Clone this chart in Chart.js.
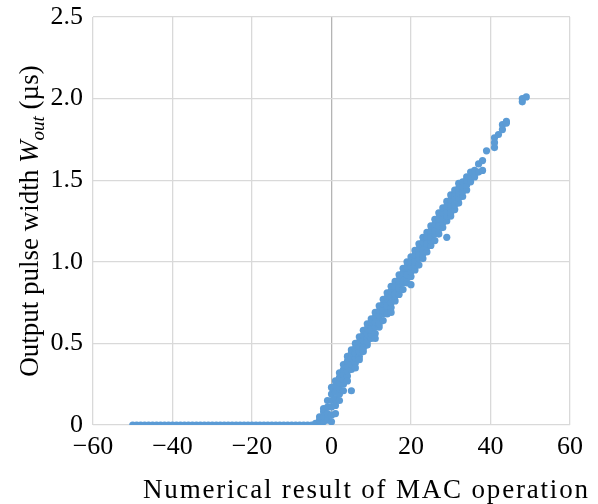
<!doctype html>
<html lang="en">
<head>
  <meta charset="utf-8">
  <title>Output pulse width vs MAC result</title>
  <style type="text/css">
    html, body {
      margin: 0;
      padding: 0;
      background: #ffffff;
    }
    #wrap {
      width: 598px;
      height: 504px;
    }
  </style>
</head>
<body>
  <div id="wrap">
    <canvas id="chart_pulse"></canvas>
  </div>

  <script src="https://cdn.jsdelivr.net/npm/chart.js"></script>
  <script>
    // flat part: results below threshold give no pulse
    const flat_x = [-50, -49, -48, -47, -46, -45, -44, -43, -42, -41, -40, -39, -38, -37, -36, -35, -34, -33, -32, -31, -30, -29, -28, -27, -26, -25, -24, -23, -22, -21, -20, -19, -18, -17, -16, -15, -14, -13, -12, -11, -10, -9, -8, -7, -6, -5, -4, -4, -3];
    const flat_y = [0, 0, 0, 0, 0, 0, 0, 0, 0, 0, 0, 0, 0, 0, 0, 0, 0, 0, 0, 0, 0, 0, 0, 0, 0, 0, 0, 0, 0, 0, 0, 0, 0, 0, 0, 0, 0, 0, 0, 0, 0, 0, 0, 0, 0, 0, 0, 0.01, 0];

    // rising part: one x per row, several measured widths each
    const rise_x = [-3, -2, -1, 0, 1, 2, 3, 4, 5, 6, 7, 8, 9, 10, 11, 12, 13, 14, 15, 16, 17, 18, 19, 20,
      21, 22, 23, 24, 25, 26, 27, 28, 29, 30, 31, 32, 33, 34, 35, 36, 37, 38, 39, 41, 42, 43, 44, 48, 49];
    const rise_y = [
      [0.01, 0.03, 0.05],
      [0.02, 0.05, 0.08, 0.1],
      [0.03, 0.07, 0.11, 0.15],
      [0.02, 0.06, 0.11, 0.15, 0.19, 0.23],
      [0.07, 0.12, 0.16, 0.2, 0.24, 0.27],
      [0.15, 0.19, 0.22, 0.26, 0.29, 0.32],
      [0.25, 0.28, 0.31, 0.34, 0.37, 0.21],
      [0.3, 0.33, 0.36, 0.39, 0.42, 0.27],
      [0.34, 0.37, 0.41, 0.44, 0.46, 0.21],
      [0.38, 0.41, 0.44, 0.47, 0.5, 0.35],
      [0.42, 0.45, 0.48, 0.51, 0.54, 0.4],
      [0.45, 0.49, 0.52, 0.55, 0.58, 0.47],
      [0.49, 0.53, 0.56, 0.59, 0.62, 0.51],
      [0.53, 0.56, 0.6, 0.63, 0.65, 0.58],
      [0.56, 0.6, 0.63, 0.66, 0.69, 0.53],
      [0.6, 0.64, 0.67, 0.7, 0.73, 0.62],
      [0.64, 0.68, 0.71, 0.74, 0.77, 0.7],
      [0.68, 0.72, 0.75, 0.78, 0.81, 0.73],
      [0.72, 0.75, 0.79, 0.82, 0.85, 0.69],
      [0.76, 0.79, 0.82, 0.85, 0.88, 0.8],
      [0.8, 0.83, 0.86, 0.89, 0.92, 0.84],
      [0.83, 0.87, 0.9, 0.93, 0.96, 0.88],
      [0.87, 0.9, 0.94, 0.97, 1.0, 0.92],
      [0.91, 0.94, 0.97, 1.0, 1.03, 0.86],
      [0.95, 0.98, 1.01, 1.04, 1.07, 1.0],
      [0.98, 1.02, 1.05, 1.08, 1.11, 1.04],
      [1.02, 1.05, 1.09, 1.12, 1.15, 1.07],
      [1.06, 1.09, 1.12, 1.15, 1.18, 1.11],
      [1.1, 1.13, 1.16, 1.19, 1.22, 1.15],
      [1.13, 1.17, 1.2, 1.23, 1.26, 1.19],
      [1.17, 1.2, 1.24, 1.27, 1.3, 1.22],
      [1.21, 1.24, 1.27, 1.3, 1.33, 1.26],
      [1.25, 1.28, 1.31, 1.34, 1.37, 1.15],
      [1.28, 1.32, 1.35, 1.38, 1.41, 1.3],
      [1.32, 1.35, 1.39, 1.42, 1.44],
      [1.36, 1.39, 1.42, 1.45, 1.48],
      [1.4, 1.43, 1.46, 1.49],
      [1.44, 1.47, 1.5, 1.52],
      [1.49, 1.52, 1.55],
      [1.52, 1.56],
      [1.55, 1.6],
      [1.56, 1.62],
      [1.68],
      [1.7, 1.73, 1.76],
      [1.78],
      [1.81, 1.84],
      [1.85, 1.86],
      [1.98, 2.0],
      [2.01]
    ];

    const x_ticks = [-60, -40, -20, 0, 20, 40, 60];
    const y_ticks = [0, 0.5, 1.0, 1.5, 2.0, 2.5];

    const pointColor = '#5B9BD5';
    const serif = '"Liberation Serif", "DejaVu Serif", serif';

    var points = [];
    for (var i = 0; i < flat_x.length; i++) {
      points.push({ x: flat_x[i], y: flat_y[i] });
    }
    for (var j = 0; j < rise_x.length; j++) {
      for (var k = 0; k < rise_y[j].length; k++) {
        points.push({ x: rise_x[j], y: rise_y[j][k] });
      }
    }

    function drawSpaced(ctx, parts, cx, cy, targetWidth) {
      // parts drawn left to right, letter spacing stretched to hit targetWidth
      var natural = 0, chars = 0;
      parts.forEach(p => {
        ctx.font = p.f;
        p.w = ctx.measureText(p.t).width;
        natural += p.w;
        chars += p.t.length;
      });
      var gap = Math.max(0, (targetWidth - natural) / (chars - 1));
      var x = cx - (natural + gap * (chars - 1)) / 2;
      parts.forEach(p => {
        ctx.font = p.f;
        for (var c = 0; c < p.t.length; c++) {
          ctx.fillText(p.t[c], x, cy + p.dy);
          x += ctx.measureText(p.t[c]).width + gap;
        }
      });
    }

    // axis titles drawn by hand (italic subscript + wide spacing)
    const titlePlugin = {
      id: 'axisTitles',
      afterDraw(chart) {
        const ctx = chart.ctx;
        const area = chart.chartArea;
        ctx.save();
        ctx.fillStyle = '#000000';
        ctx.textBaseline = 'alphabetic';
        ctx.textAlign = 'left';

        drawSpaced(ctx, [
          { t: 'Numerical result of MAC operation', f: '27px ' + serif, dy: 0 }
        ], (area.left + area.right) / 2 + 34, 498, 445);

        ctx.translate(38, 221);
        ctx.rotate(-Math.PI / 2);
        drawSpaced(ctx, [
          { t: 'Output pulse width ', f: '27px ' + serif, dy: 0 },
          { t: 'W', f: 'italic 27px ' + serif, dy: 0 },
          { t: 'out', f: 'italic 19px ' + serif, dy: 6 },
          { t: ' (\u00b5s)', f: '27px ' + serif, dy: 0 }
        ], 0, 0, 306);
        ctx.restore();
      }
    };

    const config_pulse = {
      type: 'scatter',
      data: {
        datasets: [{
          label: 'Wout',
          data: points,
          backgroundColor: pointColor,
          borderWidth: 0,
          pointRadius: 3.6,
          pointHoverRadius: 3.6
        }]
      },
      options: {
        responsive: false,
        animation: false,
        devicePixelRatio: 1,
        layout: {
          padding: { top: 17, right: 28, left: 0, bottom: 0 }
        },
        plugins: {
          legend: { display: false },
          tooltip: { enabled: false }
        },
        scales: {
          x: {
            type: 'linear',
            min: -60,
            max: 60,
            afterBuildTicks: s => { s.ticks = x_ticks.map(v => ({ value: v })); },
            afterFit: s => { s.height = 79; s.paddingLeft = 0; s.paddingRight = 0; },
            border: { display: false },
            grid: {
              color: ctx => (ctx.tick && ctx.tick.value === 0) ? '#b4b4b4' : '#d9d9d9',
              lineWidth: 1.3,
              drawTicks: false
            },
            ticks: {
              color: '#000000',
              padding: 7,
              maxRotation: 0,
              font: { family: serif, size: 26 },
              callback: v => String(v).replace('-', '\u2212')
            }
          },
          y: {
            type: 'linear',
            min: 0,
            max: 2.5,
            afterBuildTicks: s => { s.ticks = y_ticks.map(v => ({ value: v })); },
            afterFit: s => { s.width = 93; s.paddingTop = 0; s.paddingBottom = 0; },
            border: { display: false },
            grid: {
              color: '#d9d9d9',
              lineWidth: 1.3,
              drawTicks: false
            },
            ticks: {
              color: '#000000',
              padding: 10,
              font: { family: serif, size: 26 },
              callback: v => v === 0 ? '0' : v.toFixed(1)
            }
          }
        }
      },
      plugins: [titlePlugin]
    };

    const canvas = document.getElementById('chart_pulse');
    canvas.width = 598;
    canvas.height = 504;
    const chart_pulse = new Chart(canvas, config_pulse);
  </script>
</body>
</html>
